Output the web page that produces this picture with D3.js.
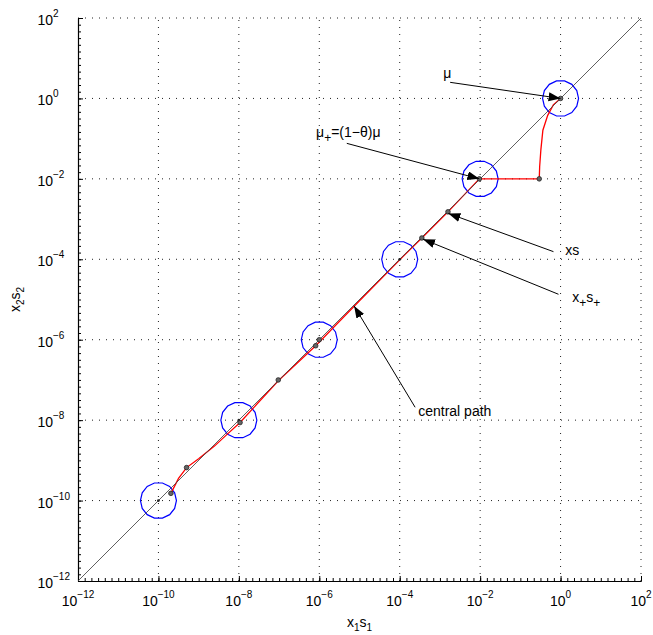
<!DOCTYPE html>
<html>
<head>
<meta charset="utf-8">
<script src="https://cdn.jsdelivr.net/npm/d3@7"></script>
<style>
body { margin: 0; background: #fff; }
svg text { font-family: "Liberation Sans", Arial, Helvetica, sans-serif; fill: #000; }
</style>
</head>
<body>
<svg width="653" height="635"></svg>
<script>
// everything is in log10 exponents, converted with pow10 below
var majorExp = [-12, -10, -8, -6, -4, -2, 0, 2];
var muExp = [0, -2, -4, -6, -8, -10];

var pathX = [0, -0.18, -0.32, -0.44, -0.49, -0.52, -0.53, -2.02, -2.8, -3.45, -4.0, -5.0, -6.09, -7.02, -7.97, -8.3, -8.6, -9.0, -9.3, -9.5, -9.69];
var pathY = [0, -0.16, -0.42, -0.79, -1.28, -1.7, -2.0, -2.0, -2.82, -3.47, -4.01, -5.03, -6.15, -7.02, -8.06, -8.36, -8.64, -8.96, -9.18, -9.45, -9.82];

var iterX = [0, -0.53, -2.02, -2.8, -3.45, -6.0, -6.09, -7.02, -7.97, -9.3, -9.69];
var iterY = [0, -2.0, -2.0, -2.82, -3.47, -6.0, -6.15, -7.0, -8.06, -9.18, -9.82];

// annotations: text, label position, arrow start, arrow tip
var notes = [
  {parts: [["μ", 0]], lx: -2.92, ly: 0.5, x0: -2.746, y0: 0.40, x1: 0, y1: 0},
  {parts: [["μ", 0], ["+", 1], ["=(1−θ)μ", 0]], lx: -6.08, ly: -0.96, x0: -5.316, y0: -1.117, x1: -2.02, y1: -2.0},
  {parts: [["xs", 0]], lx: 0.115, ly: -3.9, x0: -0.177, y0: -3.81, x1: -2.79, y1: -2.86},
  {parts: [["x", 0], ["+", 1], ["s", 0], ["+", 1]], lx: 0.29, ly: -5.07, x0: -0.052, y0: -4.87, x1: -3.42, y1: -3.5},
  {parts: [["central path", 0]], lx: -3.54, ly: -7.9, x0: -3.617, y0: -7.68, x1: -5.134, y1: -5.16}
];

function pow10(e) { return Math.pow(10, e); }

var svg = d3.select("svg");
var pLeft = 78, pRight = 641, pTop = 18, pBottom = 581;

var x = d3.scaleLog().domain([1e-12, 1e2]).range([pLeft, pRight]);
var y = d3.scaleLog().domain([1e-12, 1e2]).range([pBottom, pTop]);

// grid
var grid = svg.append("g")
  .attr("stroke", "#222")
  .attr("stroke-width", 1)
  .attr("stroke-dasharray", "1,6");
grid.selectAll(".gx")
  .data(majorExp.slice(1))
  .enter()
  .append("line")
  .attr("x1", d => x(pow10(d))).attr("x2", d => x(pow10(d)))
  .attr("y1", pBottom).attr("y2", pTop);
grid.selectAll(".gy")
  .data(majorExp.slice(1))
  .enter()
  .append("line")
  .attr("y1", d => y(pow10(d))).attr("y2", d => y(pow10(d)))
  .attr("x1", pLeft).attr("x2", pRight);

// minor ticks (even spacing, like the original)
var minor = d3.range(-12 * 6, 2 * 6 + 1).map(k => pow10(k / 6));

var xAxis = svg.append("g")
  .attr("transform", "translate(0," + pBottom + ")");
xAxis.call(d3.axisBottom(x).tickValues(minor).tickSize(-3).tickSizeOuter(0).tickFormat(""));
xAxis.append("g").call(d3.axisBottom(x).tickValues(majorExp.map(pow10)).tickSize(-5).tickSizeOuter(0).tickFormat(""));

var yAxis = svg.append("g")
  .attr("transform", "translate(" + pLeft + ",0)");
yAxis.call(d3.axisLeft(y).tickValues(minor).tickSize(-3).tickSizeOuter(0).tickFormat(""));
yAxis.append("g").call(d3.axisLeft(y).tickValues(majorExp.map(pow10)).tickSize(-5).tickSizeOuter(0).tickFormat(""));

xAxis.select(".domain").attr("stroke", "#000").attr("stroke-width", 1.2);
yAxis.select(".domain").attr("stroke", "#000").attr("stroke-width", 1.2);
xAxis.select("g").select(".domain").remove();
yAxis.select("g").select(".domain").remove();
svg.selectAll(".tick line").attr("stroke", "#000");

// tick labels 10^e
majorExp.forEach(function(e) {
  var t = svg.append("text")
    .attr("x", x(pow10(e)))
    .attr("y", 606)
    .attr("text-anchor", "middle")
    .attr("font-size", 14);
  t.append("tspan").text("10");
  t.append("tspan").attr("font-size", 10).attr("dy", -8).text(e < 0 ? "−" + (-e) : e);

  var u = svg.append("g").attr("transform", "translate(53," + (y(pow10(e)) + 7) + ")");
  u.append("text").attr("text-anchor", "end").attr("font-size", 14).text("10");
  u.append("text").attr("y", -8).attr("font-size", 10).text(e < 0 ? "−" + (-e) : e);
});

// axis titles
var xt = svg.append("text")
  .attr("x", (pLeft + pRight) / 2)
  .attr("y", 627)
  .attr("text-anchor", "middle")
  .attr("font-size", 14);
xt.append("tspan").text("x");
xt.append("tspan").attr("font-size", 10).attr("dy", 4).text("1");
xt.append("tspan").attr("dy", -4).text("s");
xt.append("tspan").attr("font-size", 10).attr("dy", 4).text("1");

var yt = svg.append("text")
  .attr("transform", "translate(20," + (pTop + pBottom) / 2 + ") rotate(-90)")
  .attr("text-anchor", "middle")
  .attr("font-size", 14);
yt.append("tspan").text("x");
yt.append("tspan").attr("font-size", 10).attr("dy", 4).text("2");
yt.append("tspan").attr("dy", -4).text("s");
yt.append("tspan").attr("font-size", 10).attr("dy", 4).text("2");

// neighbourhood circles
var circR = 18;
var ring = d3.line().curve(d3.curveLinearClosed);
svg.selectAll(".ring")
  .data(muExp)
  .enter()
  .append("path")
  .attr("fill", "none")
  .attr("stroke", "#0000ff")
  .attr("stroke-width", 1.2)
  .attr("d", function(e) {
    var cx = x(pow10(e)), cy = y(pow10(e));
    return ring(d3.range(14).map(k => [cx + circR * Math.cos(k * Math.PI / 7), cy + circR * Math.sin(k * Math.PI / 7)]));
  });

// iterate path
var pts = pathX.map((v, i) => [pow10(v), pow10(pathY[i])]);
svg.append("path")
  .datum(pts)
  .attr("fill", "none")
  .attr("stroke", "#ff0000")
  .attr("stroke-width", 1.3)
  .attr("d", d3.line().x(d => x(d[0])).y(d => y(d[1])));

// central path (diagonal)
svg.append("path")
  .datum([[1e-12, 1e-12], [1e2, 1e2]])
  .attr("fill", "none")
  .attr("stroke", "#444")
  .attr("stroke-opacity", 0.85)
  .attr("stroke-width", 1)
  .attr("d", d3.line().x(d => x(d[0])).y(d => y(d[1])));

// centre dots and iterate markers
svg.selectAll(".cdot")
  .data(muExp)
  .enter()
  .append("circle")
  .attr("cx", d => x(pow10(d)))
  .attr("cy", d => y(pow10(d)))
  .attr("r", 1.4)
  .attr("fill", "#222");

svg.selectAll(".it")
  .data(iterX)
  .enter()
  .append("circle")
  .attr("cx", d => x(pow10(d)))
  .attr("cy", (d, i) => y(pow10(iterY[i])))
  .attr("r", 2.3)
  .attr("fill", "#666")
  .attr("stroke", "#222")
  .attr("stroke-width", 0.8);

// arrows
svg.append("defs").append("marker")
  .attr("id", "head")
  .attr("markerUnits", "userSpaceOnUse")
  .attr("markerWidth", 14).attr("markerHeight", 10)
  .attr("refX", 12).attr("refY", 4.5)
  .attr("orient", "auto")
  .append("path")
  .attr("d", "M0,0 L12,4.5 L0,9 Z")
  .attr("fill", "#000");

notes.forEach(function(n) {
  svg.append("line")
    .attr("x1", x(pow10(n.x0))).attr("y1", y(pow10(n.y0)))
    .attr("x2", x(pow10(n.x1))).attr("y2", y(pow10(n.y1)))
    .attr("stroke", "#000")
    .attr("stroke-width", 1)
    .attr("marker-end", "url(#head)");
  var t = svg.append("text")
    .attr("x", x(pow10(n.lx)))
    .attr("y", y(pow10(n.ly)))
    .attr("font-size", 14);
  var low = 0;
  n.parts.forEach(function(p) {
    var dy = p[1] ? 5 - low : -low;
    low = p[1] ? 5 : 0;
    t.append("tspan").attr("dy", dy).attr("font-size", p[1] ? 12 : 14).text(p[0]);
  });
});
</script>
</body>
</html>
